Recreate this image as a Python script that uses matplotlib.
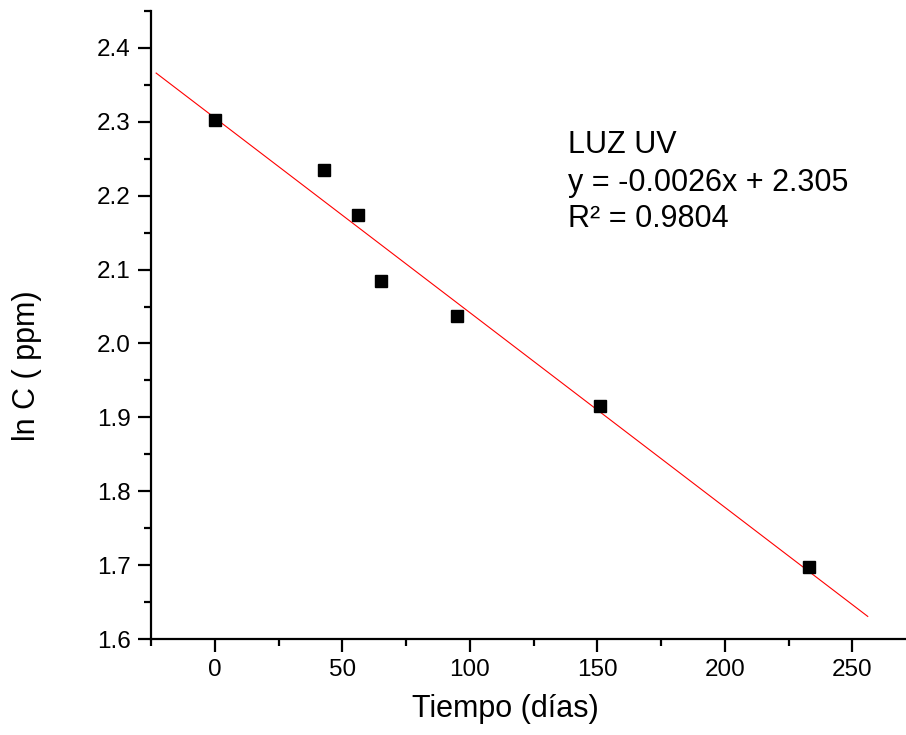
import numpy as np
import matplotlib
matplotlib.use("Agg")
import matplotlib.pyplot as plt
from matplotlib.ticker import MultipleLocator, FormatStrFormatter

plt.rcParams['font.family'] = ['Liberation Sans', 'DejaVu Sans']

# Measured data (time in days, ln of concentration)
tiempo = [0, 43, 56, 65, 95, 151, 233]
ln_c = [2.302, 2.235, 2.174, 2.085, 2.037, 1.916, 1.697]

# Linear trend line as drawn in the chart
slope = -0.002636
intercept = 2.3054
line_x = [-23, 256]

label_lines = ["LUZ UV", "y = -0.0026x + 2.305", "R\u00b2 = 0.9804"]
label_y = [2.258, 2.206, 2.157]

fig = plt.figure(figsize=(9.06, 7.35), dpi=100)
ax = fig.add_axes([0.1667, 0.1306, 0.8333, 0.8544])

lx = np.array(line_x)
ax.plot(lx, slope * lx + intercept, color='red', linewidth=0.8, zorder=2)
ax.plot(tiempo, ln_c, linestyle='none', marker='s', markersize=8.5,
        color='black', zorder=3)

ax.set_xlim(-25, 271)
ax.set_ylim(1.6, 2.45)
ax.xaxis.set_major_locator(MultipleLocator(50))
ax.xaxis.set_minor_locator(MultipleLocator(25))
ax.yaxis.set_major_locator(MultipleLocator(0.1))
ax.yaxis.set_minor_locator(MultipleLocator(0.05))
ax.yaxis.set_major_formatter(FormatStrFormatter('%.1f'))

for side in ['top', 'right']:
    ax.spines[side].set_visible(False)
for side in ['left', 'bottom']:
    ax.spines[side].set_linewidth(1.6)

ax.tick_params(which='major', direction='out', length=9.5, width=1.6,
               labelsize=17.5, pad=5)
ax.tick_params(which='minor', direction='out', length=5, width=1.6)

ax.set_xlabel('Tiempo (días)', fontsize=22)
ax.set_ylabel('ln C ( ppm)', fontsize=22)
ax.xaxis.set_label_coords(0.469, -0.088)
ax.yaxis.set_label_coords(-0.144, 0.436)

for txt, ty in zip(label_lines, label_y):
    ax.text(138.5, ty, txt, fontsize=22, ha='left', va='baseline')

fig.savefig('out.png', dpi=100)
